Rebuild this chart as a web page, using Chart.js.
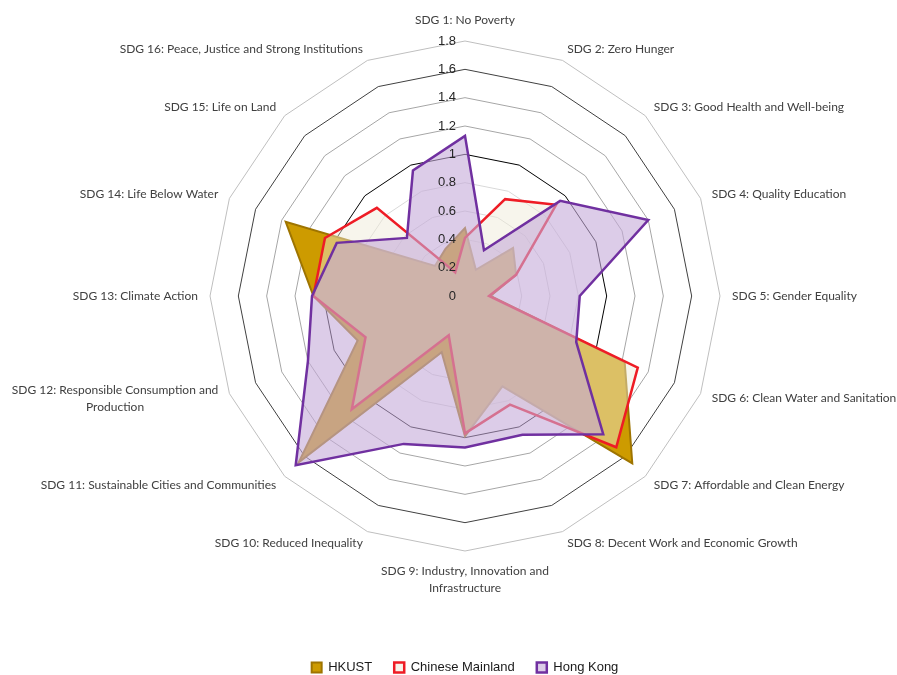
<!DOCTYPE html>
<html>
<head>
<meta charset="utf-8">
<script src="https://cdn.jsdelivr.net/npm/chart.js@4.4.0/dist/chart.umd.min.js"></script>
<style>
  html, body { margin: 0; padding: 0; background: #fff; overflow: hidden; }
  canvas { display: block; }
</style>
</head>
<body>
<canvas id="chart" width="897" height="675"></canvas>
<script>
// SDG scores per region
const categories = [
  'SDG 1: No Poverty',
  'SDG 2: Zero Hunger',
  'SDG 3: Good Health and Well-being',
  'SDG 4: Quality Education',
  'SDG 5: Gender Equality',
  'SDG 6: Clean Water and Sanitation',
  'SDG 7: Affordable and Clean Energy',
  'SDG 8: Decent Work and Economic Growth',
  ['SDG 9: Industry, Innovation and', 'Infrastructure'],
  'SDG 10: Reduced Inequality',
  'SDG 11: Sustainable Cities and Communities',
  ['SDG 12: Responsible Consumption and', 'Production'],
  'SDG 13: Climate Action',
  'SDG 14: Life Below Water',
  'SDG 15: Life on Land',
  'SDG 16: Peace, Justice and Strong Institutions'
];
const hkust    = [0.48, 0.20, 0.48, 0.39, 0.18, 1.22, 1.67, 0.69, 0.99, 0.43, 1.66, 0.82, 1.07, 1.37, 0.30, 0.36];
const mainland = [0.41, 0.74, 0.91, 0.39, 0.17, 1.32, 1.51, 0.83, 0.97, 0.30, 1.13, 0.76, 1.07, 1.07, 0.88, 0.18];
const hongKong = [1.13, 0.35, 0.95, 1.40, 0.81, 0.85, 1.38, 1.06, 1.07, 1.13, 1.69, 1.20, 1.08, 0.98, 0.58, 0.96];
const tickLabels = ['0', '0.2', '0.4', '0.6', '0.8', '1', '1.2', '1.4', '1.6', '1.8'];

// ring colours, one per tick (0 .. 1.8)
const ringColors = ['#d9d9d9', '#d9d9d9', '#d9d9d9', '#d9d9d9', '#d9d9d9',
                    '#000000', '#a6a6a6', '#a6a6a6', '#404040', '#bfbfbf'];

// tick values sit left of the vertical axis, category names round the outside
const sdgLabels = {
  id: 'sdgLabels',
  afterDatasetsDraw(chart) {
    const r = chart.scales.r;
    const ctx = chart.ctx;
    ctx.save();
    ctx.font = '13px "Liberation Sans", Arial, sans-serif';
    ctx.fillStyle = '#262626';
    ctx.textAlign = 'right';
    ctx.textBaseline = 'middle';
    r.ticks.forEach((t, i) => {
      const d = r.getDistanceFromCenterForValue(t.value);
      ctx.fillText(tickLabels[i], r.xCenter - 9, r.yCenter - d);
    });

    ctx.font = '12px Lato, sans-serif';
    ctx.fillStyle = '#404040';
    ctx.textBaseline = 'middle';
    const lh = 17;
    categories.forEach((lab, i) => {
      const lines = [].concat(lab);
      const p = r.getPointPosition(i, r.drawingArea + 12);
      const dx = p.x - r.xCenter, dy = p.y - r.yCenter;
      let y0;
      if (Math.abs(dx) < 1) {
        y0 = dy < 0 ? p.y - lh * lines.length + lh / 2 : p.y + lh / 2;
      } else {
        y0 = p.y - (lines.length - 1) * lh / 2;
      }
      if (lines.length > 1 && Math.abs(dx) >= 1) {
        const w = Math.max(...lines.map(s => ctx.measureText(s).width));
        const cx = dx > 0 ? p.x + w / 2 : p.x - w / 2;
        ctx.textAlign = 'center';
        lines.forEach((s, k) => ctx.fillText(s, cx, y0 + k * lh));
      } else {
        ctx.textAlign = Math.abs(dx) < 1 ? 'center' : dx > 0 ? 'left' : 'right';
        lines.forEach((s, k) => ctx.fillText(s, p.x, y0 + k * lh));
      }
    });
    ctx.restore();
  }
};

new Chart(document.getElementById('chart'), {
  type: 'radar',
  data: {
    labels: categories,
    datasets: [
      {
        label: 'HKUST',
        data: hkust,
        order: 3,
        backgroundColor: '#cd9b00',
        borderColor: '#9e7400',
        borderWidth: 2
      },
      {
        label: 'Chinese Mainland',
        data: mainland,
        order: 2,
        backgroundColor: 'rgba(238,234,215,0.47)',
        borderColor: '#ee1c25',
        borderWidth: 2.5
      },
      {
        label: 'Hong Kong',
        data: hongKong,
        order: 1,
        backgroundColor: 'rgba(197,170,217,0.6)',
        borderColor: '#7030a0',
        borderWidth: 2.5
      }
    ]
  },
  options: {
    responsive: false,
    animation: false,
    layout: { padding: { left: 33, right: 0, top: 41, bottom: -9 } },
    elements: {
      line: { tension: 0, fill: true, borderJoinStyle: 'miter' },
      point: { radius: 0, hoverRadius: 0 }
    },
    plugins: {
      tooltip: { enabled: false },
      legend: {
        position: 'bottom',
        title: { display: true, text: '', padding: { top: 78, bottom: 0 }, font: { size: 10, lineHeight: 1 } },
        labels: {
          boxWidth: 10,
          boxHeight: 10,
          padding: 22,
          color: '#1a1a1a',
          font: { family: '"Liberation Sans", Arial, sans-serif', size: 13 },
          sort: (a, b) => a.datasetIndex - b.datasetIndex
        }
      }
    },
    scales: {
      r: {
        min: 0,
        max: 1.8,
        ticks: { stepSize: 0.2, display: false },
        grid: { color: c => ringColors[c.index], lineWidth: 1 },
        angleLines: { display: false },
        pointLabels: { display: false }
      }
    }
  },
  plugins: [sdgLabels]
});
</script>
</body>
</html>
